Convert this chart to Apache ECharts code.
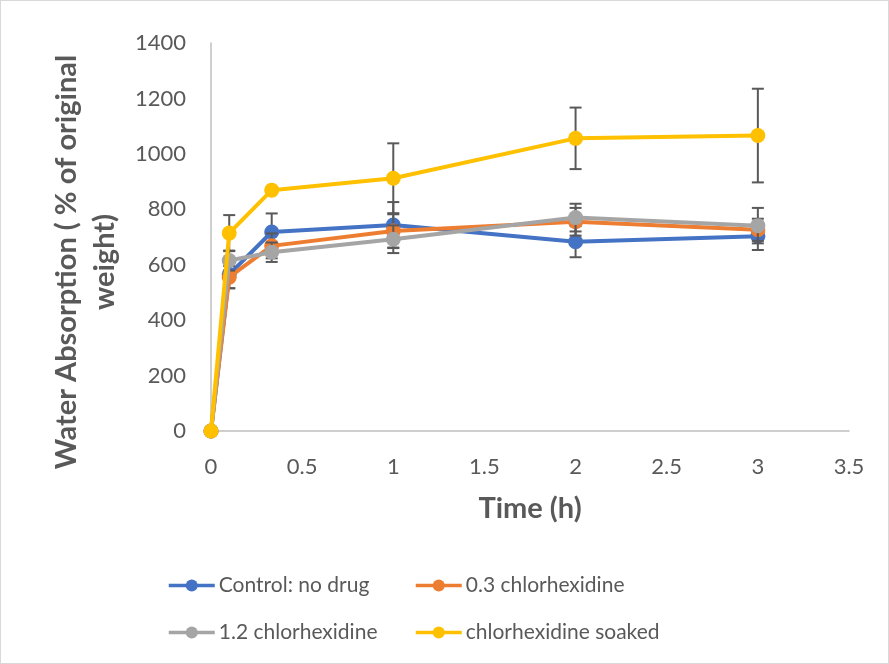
<!DOCTYPE html>
<html>
<head>
<meta charset="utf-8">
<script src="https://cdn.jsdelivr.net/npm/echarts@6/dist/echarts.min.js"></script>
<style>
  html, body { margin: 0; padding: 0; background: #fff; }
  #chart { width: 889px; height: 664px; box-sizing: border-box; border: 1px solid #d9d9d9; }
</style>
</head>
<body>
<div id="chart"></div>
<script>
// Sampling times (h)
const times = [0, 0.1, 0.333, 1, 2, 3];

// Water absorption (% of original weight) per group
const seriesNames = ['Control: no drug', '0.3 chlorhexidine', '1.2 chlorhexidine', 'chlorhexidine soaked'];
const controlVals = [0, 565, 718, 743, 683, 703];
const chx03Vals   = [0, 555, 668, 722, 755, 726];
const chx12Vals   = [0, 615, 645, 692, 770, 741];
const soakedVals  = [0, 714, 869, 912, 1056, 1066];

// Standard deviations (error bar half-lengths)
const controlErr = [0, 50, 67, 83, 56, 50];
const chx03Err   = [0, 40, 45, 60, 50, 40];
const chx12Err   = [0, 36, 35, 50, 50, 64];
const soakedErr  = [0, 65, 10, 126, 111, 169];

const colors = ['#4472c4', '#ed7d31', '#a5a5a5', '#ffc000'];
const allVals = [controlVals, chx03Vals, chx12Vals, soakedVals];
const allErrs = [controlErr, chx03Err, chx12Err, soakedErr];

const FONT = 'Lato';
const TXT = '#595959';

const chart = echarts.init(document.getElementById('chart'));

const series = [];
allVals.forEach((vals, i) => {
  series.push({
    type: 'custom',
    name: seriesNames[i] + ' error',
    z: 2 + i * 2,
    silent: true,
    data: times.map((t, k) => [t, vals[k] - allErrs[i][k], vals[k] + allErrs[i][k]]),
    renderItem: function (params, api) {
      const x = api.value(0);
      const lo = api.coord([x, api.value(1)]);
      const hi = api.coord([x, api.value(2)]);
      if (Math.abs(hi[1] - lo[1]) < 1) return null;
      const cap = 6;
      const st = { stroke: '#595959', lineWidth: 2 };
      return {
        type: 'group',
        children: [
          { type: 'line', shape: { x1: lo[0], y1: lo[1], x2: hi[0], y2: hi[1] }, style: st },
          { type: 'line', shape: { x1: lo[0] - cap, y1: lo[1], x2: lo[0] + cap, y2: lo[1] }, style: st },
          { type: 'line', shape: { x1: hi[0] - cap, y1: hi[1], x2: hi[0] + cap, y2: hi[1] }, style: st }
        ]
      };
    }
  });
  series.push({
    type: 'line',
    name: seriesNames[i],
    z: 3 + i * 2,
    data: times.map((t, k) => [t, vals[k]]),
    symbol: 'circle',
    symbolSize: 15,
    lineStyle: { width: 4, color: colors[i] },
    itemStyle: { color: colors[i] },
    emphasis: { disabled: true }
  });
});

function legendAt(name, left, top) {
  return {
    data: [name],
    left: left,
    top: top,
    itemWidth: 46,
    itemHeight: 15,
    itemGap: 0,
    padding: 0,
    lineStyle: { width: 3.5 },
    textStyle: { fontFamily: FONT, fontSize: 21, color: TXT, padding: [0, 0, 0, -1] },
    selectedMode: false
  };
}

chart.setOption({
  animation: false,
  color: colors,
  grid: { left: 210, right: 39, top: 42, bottom: 232, outerBoundsMode: 'none' },
  xAxis: {
    type: 'value',
    min: 0, max: 3.5, interval: 0.5,
    name: 'Time (h)',
    nameLocation: 'middle',
    nameGap: 63,
    nameTextStyle: { fontFamily: FONT, fontSize: 29, fontWeight: 'bold', color: TXT },
    axisLine: { show: true, onZero: false, lineStyle: { color: '#bfbfbf', width: 1.5 } },
    axisTick: { show: false },
    splitLine: { show: false },
    axisLabel: { fontFamily: FONT, fontSize: 22, color: TXT, margin: 25 }
  },
  yAxis: {
    type: 'value',
    min: 0, max: 1400, interval: 200,
    name: 'Water Absorption ( % of original\nweight)',
    nameLocation: 'middle',
    nameGap: 84,
    nameRotate: 90,
    nameTextStyle: {
      fontFamily: FONT, fontSize: 29, fontWeight: 'bold', color: TXT, lineHeight: 38,
      padding: [0, 50, 0, 0]
    },
    axisLine: { show: true, lineStyle: { color: '#bfbfbf', width: 1.5 } },
    axisTick: { show: false },
    splitLine: { show: false },
    axisLabel: {
      fontFamily: FONT, fontSize: 22, color: TXT, margin: 25,
      formatter: v => String(v)
    }
  },
  legend: [
    legendAt(seriesNames[0], 166, 574),
    legendAt(seriesNames[1], 413, 574),
    legendAt(seriesNames[2], 166, 621),
    legendAt(seriesNames[3], 413, 621)
  ],
  series: series
});
</script>
</body>
</html>
